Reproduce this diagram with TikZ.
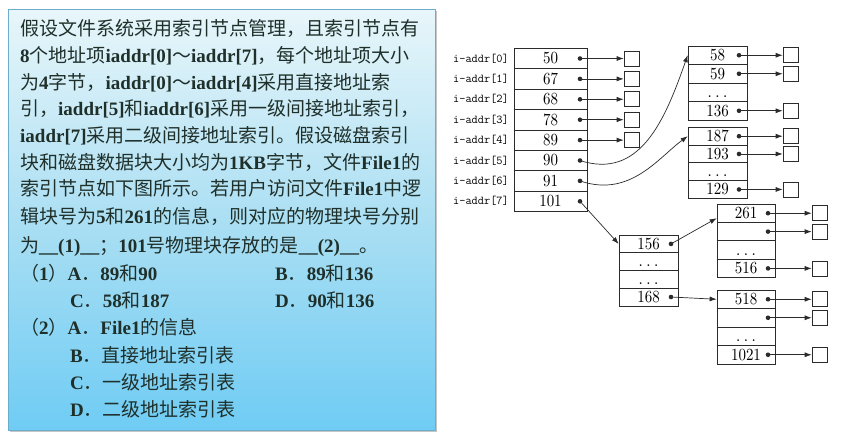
\documentclass[tikz,border=0pt]{standalone}
\usepackage{fontspec}
\usetikzlibrary{arrows.meta}
\newfontfamily\cj{Noto Sans CJK SC}
\newfontfamily\lt{Liberation Serif}
\newfontfamily\numf{lmroman10-regular.otf}[FakeStretch=0.88]
\newcommand\zhs[1]{{\cj #1}}
\newcommand\ens[1]{{\lt\bfseries #1}}
\definecolor{txt}{HTML}{1F2F2A}
\definecolor{bxtop}{HTML}{E8F6FA}
\definecolor{bxmid}{HTML}{ABDFF3}
\definecolor{bxbot}{HTML}{6FCCF4}
\definecolor{bxline}{HTML}{6AAECB}
\definecolor{ink}{HTML}{2B2B2B}
\begin{document}
\begin{tikzpicture}[x=1pt,y=-1pt,
 tl/.style={anchor=base west, inner sep=0pt, text=txt, font=\fontsize{19}{19}\selectfont},
 cell/.style={draw=ink, line width=0.7pt, inner sep=0pt, font=\numf\fontsize{17}{17}\selectfont},
 lab/.style={anchor=east, inner sep=0pt, font=\ttfamily\fontsize{12}{12}\selectfont},
 dotn/.style={circle, fill=ink, inner sep=0pt, minimum size=4.6pt},
 sq/.style={draw=ink, line width=0.7pt, minimum size=15pt, inner sep=0pt},
 arr/.style={draw=ink, line width=0.7pt, -{Latex[length=7pt,width=5pt]}},
 ell/.style={anchor=base, inner sep=0pt, font=\bfseries\fontsize{12}{12}\selectfont}
]
\useasboundingbox (0,0) rectangle (842,440);
\fill[white] (0,0) rectangle (842,440);
% question box
\fill[gray!45] (10,11) rectangle (437,432);
\shade[top color=bxtop, bottom color=bxbot, middle color=bxmid] (8,9) rectangle (435,430);
\draw[bxline, line width=0.8pt] (8,9) rectangle (435,430);

\node[tl] (t1) at (20,35.5) {\zhs{假设文件系统采用索引节点管理，且索引节点有}};
\node[tl] (t2) at (20,62) {\ens{8}\zhs{个地址项}\ens{iaddr[0]}\zhs{～}\ens{iaddr[7]}\zhs{，每个地址项大小}};
\node[tl] (t3) at (20,89) {\zhs{为}\ens{4}\zhs{字节，}\ens{iaddr[0]}\zhs{～}\ens{iaddr[4]}\zhs{采用直接地址索}};
\node[tl] (t4) at (20,115) {\zhs{引，}\ens{iaddr[5]}\zhs{和}\ens{iaddr[6]}\zhs{采用一级间接地址索引，}};
\node[tl] (t5) at (20,142) {\ens{iaddr[7]}\zhs{采用二级间接地址索引。假设磁盘索引}};
\node[tl] (t6) at (20,169) {\zhs{块和磁盘数据块大小均为}\ens{1KB}\zhs{字节，文件}\ens{File1}\zhs{的}};
\node[tl] (t7) at (20,195) {\zhs{索引节点如下图所示。若用户访问文件}\ens{File1}\zhs{中逻}};
\node[tl] (t8) at (20,223) {\zhs{辑块号为}\ens{5}\zhs{和}\ens{261}\zhs{的信息，则对应的物理块号分别}};
\node[tl] (t9) at (20,252) {\zhs{为}\ens{\_\_(1)\_\_}\zhs{；}\ens{101}\zhs{号物理块存放的是}\ens{\_\_(2)\_\_}\zhs{。}};
\node[tl] (t10) at (20,280) {\zhs{（}\ens{1}\zhs{）}\ens{A}\zhs{．}\ens{89}\zhs{和}\ens{90}};
\node[tl] (t10b) at (275,280) {\ens{B}\zhs{．}\ens{89}\zhs{和}\ens{136}};
\node[tl] (t11) at (70,307) {\ens{C}\zhs{．}\ens{58}\zhs{和}\ens{187}};
\node[tl] (t11b) at (275,307) {\ens{D}\zhs{．}\ens{90}\zhs{和}\ens{136}};
\node[tl] (t12) at (20,334) {\zhs{（}\ens{2}\zhs{）}\ens{A}\zhs{．}\ens{File1}\zhs{的信息}};
\node[tl] (t13) at (70,362) {\ens{B}\zhs{．直接地址索引表}};
\node[tl] (t14) at (70,389) {\ens{C}\zhs{．一级地址索引表}};
\node[tl] (t15) at (70,416) {\ens{D}\zhs{．二级地址索引表}};

% main index node table
\foreach \i/\v in {0/50,1/67,2/68,3/78,4/89,5/90,6/91,7/101} {
  \node[cell, minimum width=73pt, minimum height=20.4pt] (m\i) at (550.5,{58.5+20.4*\i}) {\v};
  \node[lab] (l\i) at (509,{58.5+20.4*\i}) {i-addr[\i]};
  \node[dotn] (md\i) at (580,{58.5+20.4*\i}) {};
}
\foreach \i in {0,...,4} {
  \node[sq] (ms\i) at (631.5,{58.5+20.4*\i}) {};
  \draw[arr] (md\i.center) -- (ms\i.west);
}

% block A (58 ... 136)
\foreach \i/\v in {0/58,1/59,3/136} {
  \node[cell, minimum width=59pt, minimum height=18.5pt] (a\i) at (717.5,{55.25+18.5*\i}) {\v};
  \node[dotn] (ad\i) at (739,{55.25+18.5*\i}) {};
  \node[sq] (as\i) at (790.5,{55.25+18.5*\i}) {};
  \draw[arr] (ad\i.center) -- (as\i.west);
}
\node[cell, minimum width=59pt, minimum height=18.5pt] (a2) at (717.5,92.25) {};
\node[ell] (ae2) at (717.5,97.3) {.\,\,.\,\,.};

% block B (187 ... 129)
\foreach \i/\v in {0/187,1/193,3/129} {
  \node[cell, minimum width=59pt, minimum height=17.75pt] (b\i) at (717.5,{136.2+17.75*\i}) {\v};
  \node[dotn] (bd\i) at (739,{136.2+17.75*\i}) {};
  \node[sq] (bs\i) at (790.5,{136.2+17.75*\i}) {};
  \draw[arr] (bd\i.center) -- (bs\i.west);
}
\node[cell, minimum width=59pt, minimum height=17.75pt] (b2) at (717.5,171.7) {};
\node[ell] (be2) at (717.5,176.5) {.\,\,.\,\,.};

% block C (156 ... 168)
\foreach \i/\v in {0/156,3/168} {
  \node[cell, minimum width=59pt, minimum height=17.7pt] (c\i) at (648.5,{243.9+17.7*\i}) {\v};
  \node[dotn] (cd\i) at (671,{243.9+17.7*\i}) {};
}
\foreach \i in {1,2} {
  \node[cell, minimum width=59pt, minimum height=17.7pt] (c\i) at (648.5,{243.9+17.7*\i}) {};
  \node[ell] (ce\i) at (648.5,{243.9+17.7*\i+5}) {.\,\,.\,\,.};
}

% block D (261 ... 516)
\foreach \i/\v in {0/261,1/{},3/516} {
  \node[cell, minimum width=58pt, minimum height=18.4pt] (d\i) at (746,{213.2+18.4*\i}) {\v};
  \node[dotn] (dd\i) at (768,{213.2+18.4*\i}) {};
  \node[sq] (ds\i) at (819.5,{213.2+18.4*\i}) {};
  \draw[arr] (dd\i.center) -- (ds\i.west);
}
\node[cell, minimum width=58pt, minimum height=18.4pt] (d2) at (746,250) {};
\node[ell] (de2) at (746,255) {.\,\,.\,\,.};

% block E (518 ... 1021)
\foreach \i/\v in {0/518,1/{},3/1021} {
  \node[cell, minimum width=58pt, minimum height=18.5pt] (e\i) at (746,{299.25+18.5*\i}) {\v};
  \node[dotn] (ed\i) at (768,{299.25+18.5*\i}) {};
  \node[sq] (es\i) at (819.5,{299.25+18.5*\i}) {};
  \draw[arr] (ed\i.center) -- (es\i.west);
}
\node[cell, minimum width=58pt, minimum height=18.5pt] (e2) at (746,336.25) {};
\node[ell] (ee2) at (746,341.3) {.\,\,.\,\,.};

% connectors between blocks
\draw[arr] (md5.center) .. controls (640,180) and (665,120) .. (a0.west);
\draw[arr] (md6.center) .. controls (630,198) and (658,158) .. (b0.west);
\draw[arr] (md7.center) -- (c0.west);
\draw[arr] (cd0.center) -- ([yshift=-5pt]d0.west);
\draw[arr] (cd3.center) -- (e0.west);
\end{tikzpicture}
\end{document}
